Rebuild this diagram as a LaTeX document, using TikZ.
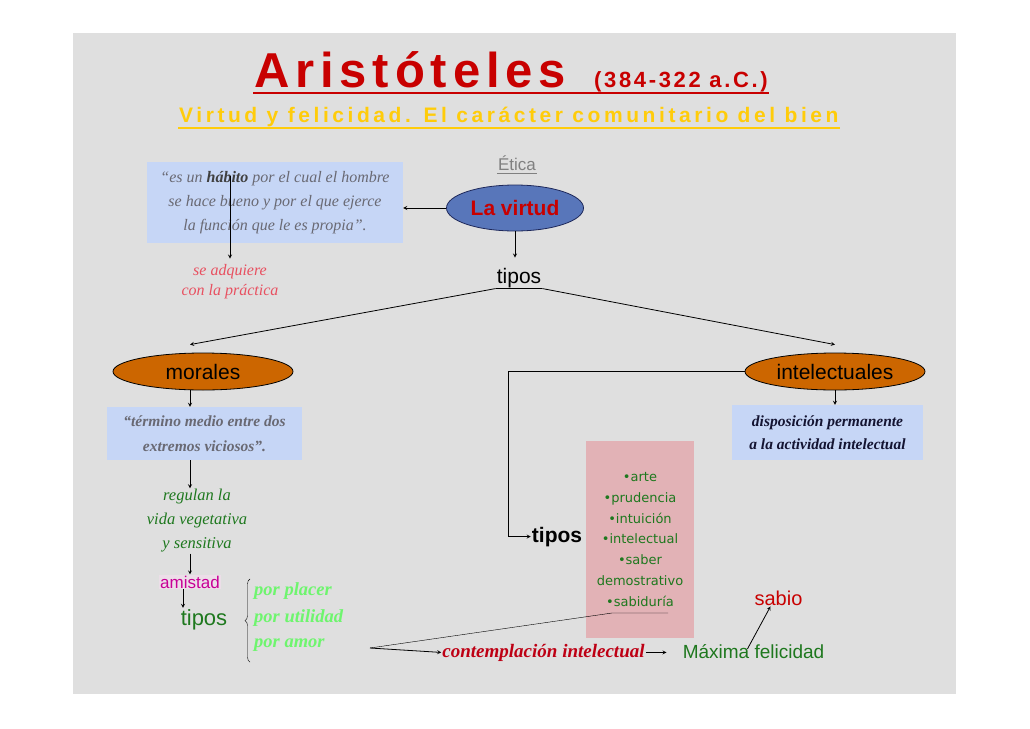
\documentclass[tikz,border=0pt]{standalone}
\usepackage{fontspec}
\usetikzlibrary{shapes.geometric,decorations.pathreplacing}
\newfontfamily\arialfont{Liberation Sans}
\newfontfamily\serifit{Liberation Serif}
\newfontfamily\titlefont{Liberation Sans}[LetterSpace=12]
\newfontfamily\subfont{Liberation Sans}[LetterSpace=17]
\newfontfamily\listfont{DejaVu Sans}
\definecolor{slide}{RGB}{223,223,223}
\definecolor{titlered}{RGB}{200,0,0}
\definecolor{gold}{RGB}{255,204,10}
\definecolor{quoteblue}{RGB}{198,214,246}
\definecolor{denim}{RGB}{88,118,186}
\definecolor{denimline}{RGB}{30,40,90}
\definecolor{ochre}{RGB}{204,102,0}
\definecolor{rose}{RGB}{226,178,182}
\definecolor{leaf}{RGB}{30,120,30}
\definecolor{lime}{RGB}{110,245,110}
\definecolor{wine}{RGB}{190,0,20}
\definecolor{pinkred}{RGB}{232,80,96}
\definecolor{plum}{RGB}{200,0,150}
\definecolor{plumbg}{RGB}{236,222,232}
\definecolor{qgray}{RGB}{105,105,115}
\definecolor{navyink}{RGB}{20,20,50}
\tikzset{
  arr/.style={-stealth, line width=0.8pt},
  oval/.style={ellipse, draw=black, line width=0.8pt, fill=ochre, minimum width=180pt,
    minimum height=37pt, font=\arialfont\fontsize{21}{24}\selectfont},
  quotebox/.style={fill=quoteblue, align=center, inner sep=0pt},
  txt/.style={inner sep=1pt, align=center},
}

\begin{document}
\begin{tikzpicture}[x=1pt,y=-1pt]
\useasboundingbox (0,0) rectangle (1030,728);
\fill[slide] (73,33) rectangle (956,694);

\node[txt, anchor=base west, text=titlered, font=\titlefont\bfseries\fontsize{49}{50}\selectfont] (ttl) at (253,87) {Aristóteles};
\node[txt, anchor=base west, text=titlered, font=\titlefont\bfseries\fontsize{22}{24}\selectfont] (yrs) at (593,87) {(384-322 a.C.)};
\draw[titlered, line width=2pt] ([yshift=-6pt]ttl.base west) -- ([yshift=-6pt]yrs.base east);
\node[txt, anchor=base west, text=gold, font=\subfont\bfseries\fontsize{21}{22}\selectfont] (sub) at (178,122) {Virtud y felicidad. El carácter comunitario del bien};
\draw[gold, line width=1.5pt] ([yshift=-6pt]sub.base west) -- ([yshift=-6pt]sub.base east);

\node[txt, anchor=base, text=gray, font=\arialfont\fontsize{17}{20}\selectfont] (etica) at (517,170) {Ética};
\draw[gray, line width=1pt] ([yshift=-3pt]etica.base west) -- ([yshift=-3pt]etica.base east);
\node[ellipse, draw=denimline, line width=0.8pt, fill=denim, minimum width=137pt, minimum height=46pt, text=titlered,
  font=\arialfont\bfseries\fontsize{21}{24}\selectfont] (virtud) at (515,208) {La virtud};

\node[quotebox, minimum width=256pt, minimum height=81pt, text=qgray, font=\serifit\itshape\fontsize{16}{24}\selectfont] (habito) at (275,202.5)
  {“es un {\bfseries\color{darkgray}hábito} por el cual el hombre\\ se hace bueno y por el que ejerce\\ la función que le es propia”.};
\coordinate (hab) at (230,176);
\node[txt, text=pinkred, font=\serifit\itshape\fontsize{16}{20}\selectfont] (adq) at (230,282) {se adquiere\\ con la práctica};
\draw[arr] (hab) -- ([yshift=5pt]adq.north);
\draw[arr] (virtud.west) -- (virtud.west -| habito.east);

\node[txt, anchor=base, font=\arialfont\fontsize{21}{24}\selectfont] (tp1) at (519,283) {tipos};
\draw[arr] (virtud.south) -- ([yshift=9pt]virtud.south |- tp1.north);
\node[oval] (morales) at (203,371.5) {morales};
\node[oval] (intel) at (835,371.5) {intelectuales};
\draw (tp1.south west) -- (tp1.south east);
\draw[arr] (tp1.south west) -- ([xshift=-13pt,yshift=8pt]morales.north);
\draw[arr] (tp1.south east) -- ([yshift=8pt]intel.north);

\node[quotebox, minimum width=195pt, minimum height=53pt, text=qgray, font=\serifit\bfseries\itshape\fontsize{15.5}{25}\selectfont] (term) at (204.5,433.5)
  {“término medio entre dos\\ extremos viciosos”.};
\node[txt, text=leaf, font=\serifit\itshape\fontsize{16.5}{24}\selectfont] (regul) at (197,521) {regulan la\\ vida vegetativa\\ y sensitiva};
\node[txt, anchor=base, fill=plumbg, text=plum, font=\arialfont\fontsize{17}{20}\selectfont] (amistad) at (190,588) {amistad};
\node[txt, anchor=base, text=leaf, font=\arialfont\fontsize{22}{24}\selectfont] (tp2) at (204,625) {tipos};
\draw[arr] (morales.south -| amistad) -- (term.north -| amistad);
\draw[arr] (term.south -| amistad) -- (regul.north -| amistad);
\draw[arr] (regul.south -| amistad) -- (amistad.north);
\draw[arr] ([xshift=-7pt]amistad.south) -- ([xshift=-21pt]tp2.north);
\foreach \txtp/\yp/\nm in {por placer/595/plac, por utilidad/622/util, por amor/647/amor}
  \node[txt, anchor=base west, text=lime, font=\serifit\bfseries\itshape\fontsize{18.5}{20}\selectfont] (\nm) at (253,\yp) {\txtp};
\draw[decorate, decoration={brace, amplitude=5pt}] ([xshift=-3pt,yshift=-10pt]amor.south west) -- ([xshift=-3pt,yshift=2pt]plac.north west);

\node[quotebox, minimum width=191pt, minimum height=55pt, text=navyink, font=\serifit\bfseries\itshape\fontsize{15.5}{23}\selectfont] (dispo) at (827.5,432.5)
  {disposición permanente\\ a la actividad intelectual};
\draw[arr] (intel.south) -- (intel.south |- dispo.north);

\node[txt, anchor=base, font=\arialfont\bfseries\fontsize{21}{24}\selectfont] (tp3) at (557,542) {tipos};
\coordinate (bend) at (508,371.5);
\draw[arr] (intel.west) -- (bend) |- (tp3.west);
\node[fill=rose, minimum width=108pt, minimum height=197pt, align=center, text=leaf, font=\listfont\fontsize{13}{20.7}\selectfont] (list) at (640,539.5)
  {•arte\\ •prudencia\\ •intuición\\ •intelectual\\ •saber\\ demostrativo\\ •sabiduría};

\coordinate (sabR) at (668,613);
\coordinate (sabL) at (612,613);
\coordinate (fork) at (370,648);
\node[txt, anchor=base, text=wine, font=\serifit\bfseries\itshape\fontsize{19}{20}\selectfont] (contemp) at (543.5,657) {contemplación intelectual};
\node[txt, anchor=base, text=leaf, font=\arialfont\fontsize{19}{22}\selectfont] (maxfel) at (753.5,658) {Máxima felicidad};
\node[txt, anchor=base, text=titlered, font=\arialfont\fontsize{20}{22}\selectfont] (sabio) at (778.5,605) {sabio};
\coordinate (maxin) at ([xshift=-15pt]maxfel.west);
\draw (sabR) -- (sabL) -- (fork);
\draw[arr] (fork) -- (contemp.west);
\draw[arr] (contemp.east) -- (maxin |- contemp.east);
\draw[arr] ([xshift=-6pt,yshift=-6pt]maxfel.north) -- ([xshift=-8pt]sabio.south);
\end{tikzpicture}
\end{document}
